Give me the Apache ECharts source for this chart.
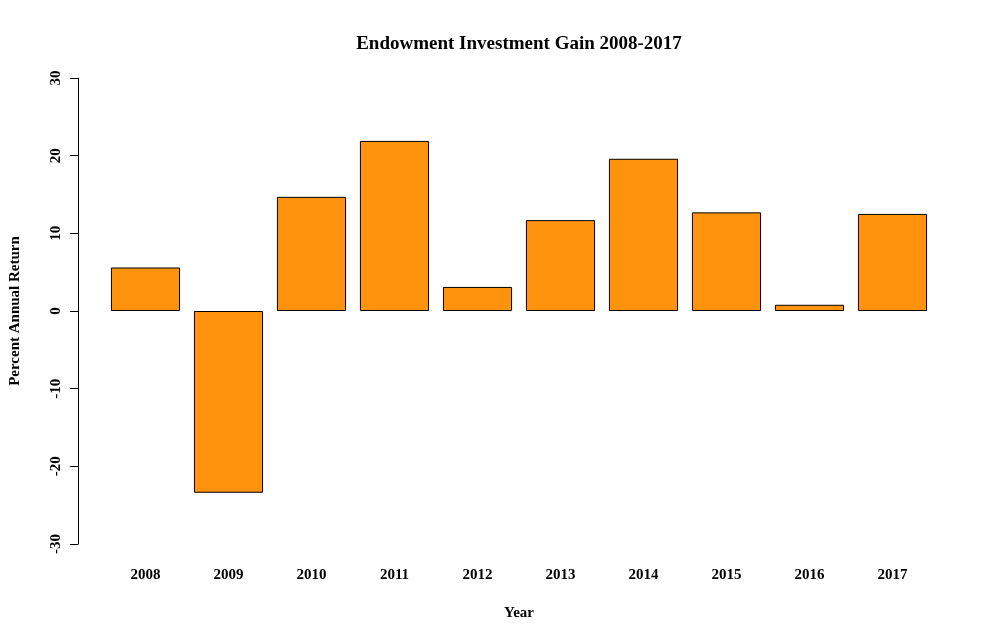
<!DOCTYPE html>
<html>
<head>
<meta charset="utf-8">
<script src="https://cdn.jsdelivr.net/npm/echarts@6/dist/echarts.min.js"></script>
<style>html,body{margin:0;padding:0;background:#fff}#c{width:1000px;height:642px}</style>
</head>
<body>
<div id="c"></div>
<script>
const years = ['2008','2009','2010','2011','2012','2013','2014','2015','2016','2017'];
const returns = [5.6, -23.4, 14.7, 21.9, 3.1, 11.7, 19.6, 12.7, 0.8, 12.5];
const yTicks = [-30, -20, -10, 0, 10, 20, 30];

const font = '"Liberation Serif", "DejaVu Serif", serif';
const chart = echarts.init(document.getElementById('c'), null, {renderer: 'canvas'});
chart.setOption({
  backgroundColor: '#fff',
  animation: false,
  title: {
    text: 'Endowment Investment Gain 2008-2017',
    left: 514, top: 30, textAlign: 'center',
    textStyle: {fontFamily: font, fontWeight: 'bold', fontSize: 19, color: '#000'}
  },
  grid: {left: 104, top: 78, width: 830, bottom: 98, containLabel: false, outerBoundsMode: 'none'},
  xAxis: {
    type: 'category',
    data: years,
    name: 'Year', nameLocation: 'middle', nameGap: 62,
    nameTextStyle: {fontFamily: font, fontWeight: 'bold', fontSize: 15, color: '#000'},
    axisLine: {show: false}, axisTick: {show: false},
    axisLabel: {fontFamily: font, fontWeight: 'bold', fontSize: 15, color: '#000', margin: 24},
    splitLine: {show: false}
  },
  yAxis: {
    type: 'value', min: yTicks[0], max: yTicks[yTicks.length-1], interval: 10,
    offset: 26,
    name: 'Percent Annual Return', nameLocation: 'middle', nameGap: 55, nameRotate: 90,
    nameTextStyle: {fontFamily: font, fontWeight: 'bold', fontSize: 15, color: '#000'},
    axisLine: {show: true, lineStyle: {color: '#000', width: 1}},
    axisTick: {show: true, length: 8, lineStyle: {color: '#000'}},
    axisLabel: {fontFamily: font, fontWeight: 'bold', fontSize: 15, color: '#000', rotate: 90, margin: 14},
    splitLine: {show: false}
  },
  series: [{
    type: 'bar',
    data: returns,
    barCategoryGap: '16.7%',
    itemStyle: {color: '#FF930E', borderColor: '#000', borderWidth: 1}
  }]
});
</script>
</body>
</html>
